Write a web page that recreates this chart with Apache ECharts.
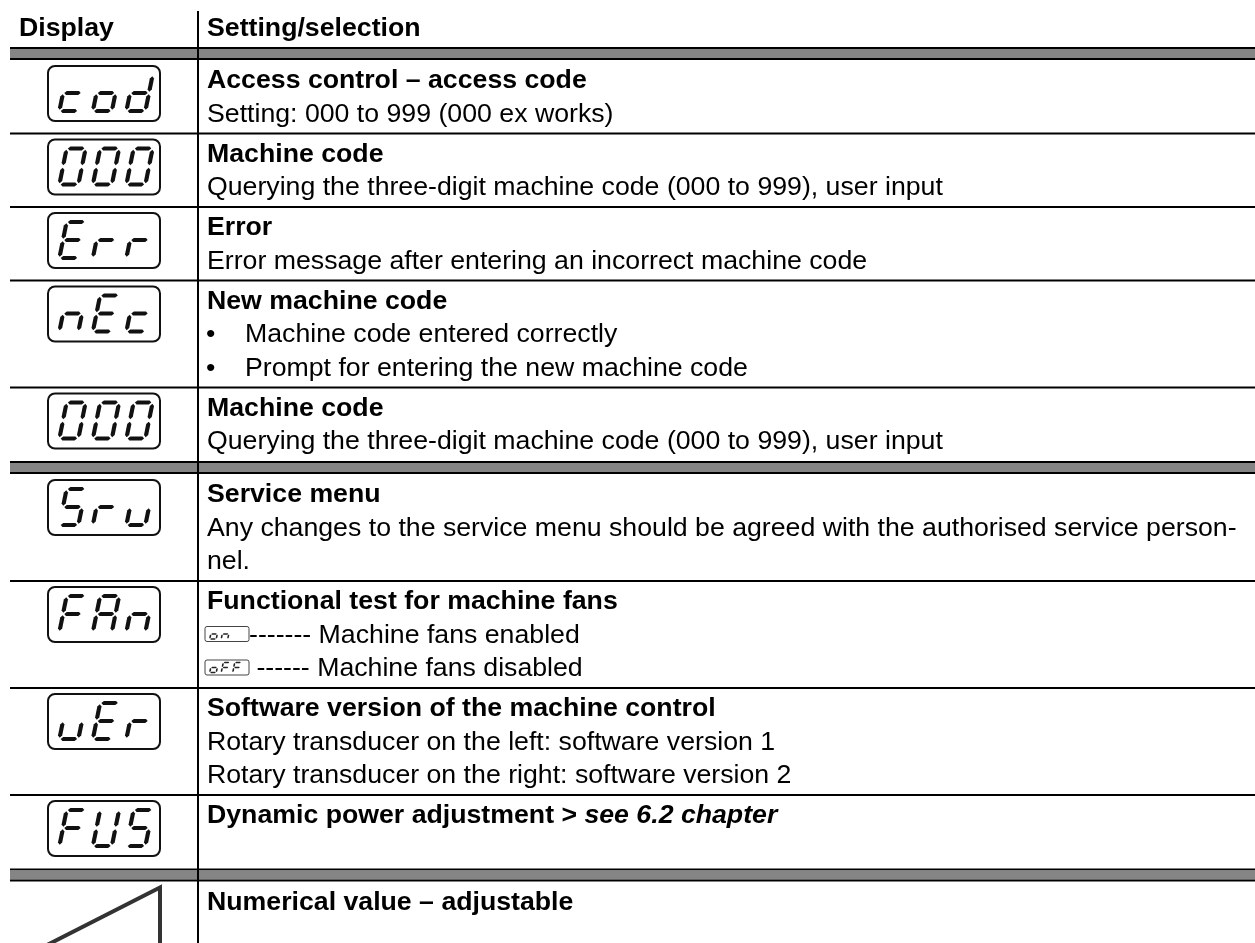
<!DOCTYPE html>
<html>
<head>
<meta charset="utf-8">
<script src="https://cdn.jsdelivr.net/npm/echarts@6/dist/echarts.min.js"></script>
<style>
html,body{margin:0;padding:0;background:#fff;}
#chart{width:1255px;height:943px;}
</style>
</head>
<body>
<div id="chart"></div>
<script>
// ---------- data ----------
const headers = ['Display', 'Setting/selection'];
const displayCodes = ['cod', '000', 'Err', 'nEc', '000', 'Sru', 'FAn', 'uEr', 'FUS', ''];
const titles = [
  'Access control \u2013 access code',
  'Machine code',
  'Error',
  'New machine code',
  'Machine code',
  'Service menu',
  'Functional test for machine fans',
  'Software version of the machine control',
  'Dynamic power adjustment >',
  'Numerical value \u2013 adjustable'
];
const titleRefs = ['', '', '', '', '', '', '', '', 'see 6.2 chapter', ''];
const descriptions = [
  ['Setting: 000 to 999 (000 ex works)'],
  ['Querying the three-digit machine code (000 to 999), user input'],
  ['Error message after entering an incorrect machine code'],
  ['\u2022 Machine code entered correctly', '\u2022 Prompt for entering the new machine code'],
  ['Querying the three-digit machine code (000 to 999), user input'],
  ['Any changes to the service menu should be agreed with the authorised service person-', 'nel.'],
  [{ led: 'on ', text: '------- Machine fans enabled' }, { led: 'oFF', text: ' ------ Machine fans disabled' }],
  ['Rotary transducer on the left: software version 1', 'Rotary transducer on the right: software version 2'],
  [''],
  []
];
const groupStarts = [0, 5, 9];

// ---------- layout (derived) ----------
const W = 1255, H = 943;
const FONT = '"Liberation Sans", Arial, sans-serif';
const FS = 26.7;
const PITCH = 33.5;
const rowInfo = [];
(function () {
  let y = 47;
  for (let i = 0; i < titles.length; i++) {
    const n = 1 + descriptions[i].length;
    const dbl = groupStarts.indexOf(i) >= 0;
    const sepY = y;
    if (dbl) y += 13;
    const top = y;
    const h = 40 + PITCH * (n - 1);
    rowInfo.push({ sepY, dbl, top, h });
    y += h;
  }
})();

const SEG = {
  'c': 'deg', 'o': 'cdeg', 'd': 'bcdeg', '0': 'abcdef', 'E': 'adefg', 'r': 'eg',
  'n': 'ceg', 'S': 'acdfg', '5': 'acdfg', 'u': 'cde', 'F': 'aefg', 'A': 'abcefg',
  'U': 'bcdef', ' ': ''
};

function ledGlyph(api, ch, cx, top, w, h, slant, t, gap, color) {
  const segs = SEG[ch] || '';
  const P = {
    a: [[0, 0], [w, 0]], b: [[w, 0], [w, h / 2]], c: [[w, h / 2], [w, h]],
    d: [[0, h], [w, h]], e: [[0, h / 2], [0, h]], f: [[0, 0], [0, h / 2]], g: [[0, h / 2], [w, h / 2]]
  };
  const x0 = cx - w / 2 - slant * h / 2;
  return segs.split('').map(function (s) {
    const p = P[s];
    const x1 = p[0][0], y1 = p[0][1], x2 = p[1][0], y2 = p[1][1];
    const len = Math.hypot(x2 - x1, y2 - y1);
    const dx = (x2 - x1) / len, dy = (y2 - y1) / len, nx = -dy, ny = dx;
    const ax = x1 + dx * gap, ay = y1 + dy * gap, bx = x2 - dx * gap, by = y2 - dy * gap;
    const k = t / 2;
    const loc = [
      [ax, ay], [ax + dx * k + nx * k, ay + dy * k + ny * k], [bx - dx * k + nx * k, by - dy * k + ny * k],
      [bx, by], [bx - dx * k - nx * k, by - dy * k - ny * k], [ax + dx * k - nx * k, ay + dy * k - ny * k]
    ];
    const pts = loc.map(function (q) { return api.coord([x0 + q[0] + slant * (h - q[1]), top + q[1]]); });
    return { type: 'polygon', shape: { points: pts }, style: { fill: color } };
  });
}

function textEl(api, x, y, text, bold) {
  const c = api.coord([x, y]);
  return {
    type: 'text', x: c[0], y: c[1],
    style: {
      text: text, fill: '#000', fontSize: FS, fontFamily: FONT,
      fontWeight: bold ? 'bold' : 'normal', align: 'left', verticalAlign: 'middle'
    }
  };
}

function hRect(api, x1, y1, x2, y2, fill) {
  const a = api.coord([x1, y1]), b = api.coord([x2, y2]);
  return { type: 'rect', shape: { x: a[0], y: a[1], width: b[0] - a[0], height: b[1] - a[1] }, style: { fill: fill } };
}

function renderHeader(params, api) {
  const ch = [];
  const a = api.coord([198, 11]), b = api.coord([198, H]);
  ch.push({ type: 'line', shape: { x1: a[0], y1: a[1], x2: b[0], y2: b[1] }, style: { stroke: '#000', lineWidth: 2 } });
  ch.push(textEl(api, 19, 29, headers[0], true));
  ch.push(textEl(api, 207, 29, headers[1], true));
  return { type: 'group', children: ch };
}

function renderRow(params, api) {
  const i = api.value(0);
  const r = rowInfo[i];
  const ch = [];
  // separator
  if (r.dbl) {
    ch.push(hRect(api, 10, r.sepY, W, r.sepY + 2, '#000'));
    ch.push(hRect(api, 10, r.sepY + 2, W, r.sepY + 11, '#858585'));
    ch.push(hRect(api, 10, r.sepY + 11, W, r.sepY + 13, '#000'));
  } else {
    ch.push(hRect(api, 10, r.sepY - 1, W, r.sepY + 1, '#000'));
  }
  // LED display
  const code = displayCodes[i];
  if (code) {
    const bt = r.top + 6, bl = 48, bw = 112, bh = 55;
    const p = api.coord([bl, bt]);
    ch.push({ type: 'rect', shape: { x: p[0], y: p[1], width: bw, height: bh, r: 7 }, style: { fill: '#fff', stroke: '#111', lineWidth: 2 } });
    for (let k = 0; k < code.length; k++) {
      const cx = bl + 24.5 + k * 33.5;
      ledGlyph(api, code[k], cx, bt + 9, 19, 36, 0.2, 4.2, 1.3, '#111').forEach(function (e) { ch.push(e); });
    }
  } else {
    // adjustable value ramp symbol
    const pts = [[160, r.top + 6], [160, H + 40], [160 - 110 * ((H + 40 - r.top - 6) / 56), H + 40]]
      .map(function (q) { return api.coord(q); });
    ch.push({ type: 'polygon', shape: { points: pts }, style: { fill: '#fff', stroke: '#333', lineWidth: 4 } });
  }
  // title
  const ty = r.top + 21;
  if (titleRefs[i]) {
    const c = api.coord([207, ty]);
    ch.push({
      type: 'text', x: c[0], y: c[1],
      style: {
        text: '{b|' + titles[i] + ' }{bi|' + titleRefs[i] + '}',
        fill: '#000', fontSize: FS, fontFamily: FONT, align: 'left', verticalAlign: 'middle',
        rich: {
          b: { fontWeight: 'bold', fontSize: FS, fontFamily: FONT, fill: '#000' },
          bi: { fontWeight: 'bold', fontStyle: 'italic', fontSize: FS, fontFamily: FONT, fill: '#000' }
        }
      }
    });
  } else {
    ch.push(textEl(api, 207, ty, titles[i], true));
  }
  // description lines
  descriptions[i].forEach(function (d, k) {
    const y = ty + PITCH * (k + 1);
    if (typeof d === 'object') {
      const bx = 205, bw = 44, bh = 15, btop = y - 9;
      const p = api.coord([bx, btop]);
      ch.push({ type: 'rect', shape: { x: p[0], y: p[1], width: bw, height: bh, r: 2 }, style: { fill: '#fff', stroke: '#444', lineWidth: 1 } });
      for (let m = 0; m < d.led.length; m++) {
        ledGlyph(api, d.led[m], bx + 9 + m * 11.5, btop + 2.5, 6.5, 10, 0.2, 1.6, 0.5, '#222').forEach(function (e) { ch.push(e); });
      }
      ch.push(textEl(api, 249, y, d.text, false));
    } else if (d.indexOf('\u2022 ') === 0) {
      ch.push(textEl(api, 206, y, '\u2022', false));
      ch.push(textEl(api, 245, y, d.slice(2), false));
    } else if (d) {
      ch.push(textEl(api, 207, y, d, false));
    }
  });
  return { type: 'group', children: ch };
}

const chart = echarts.init(document.getElementById('chart'), null, { renderer: 'canvas' });
chart.setOption({
  animation: false,
  backgroundColor: '#fff',
  grid: { left: 0, right: 0, top: 0, bottom: 0 },
  xAxis: { type: 'value', min: 0, max: W, show: false },
  yAxis: { type: 'value', min: 0, max: H, inverse: true, show: false },
  series: [
    {
      type: 'custom', name: 'rows', clip: false,
      renderItem: renderRow,
      data: titles.map(function (t, i) { return [i]; }),
      encode: { x: [], y: [] }
    },
    {
      type: 'custom', name: 'header', clip: false, z: 3,
      renderItem: renderHeader,
      data: [[0]],
      encode: { x: [], y: [] }
    }
  ]
});
</script>
</body>
</html>
